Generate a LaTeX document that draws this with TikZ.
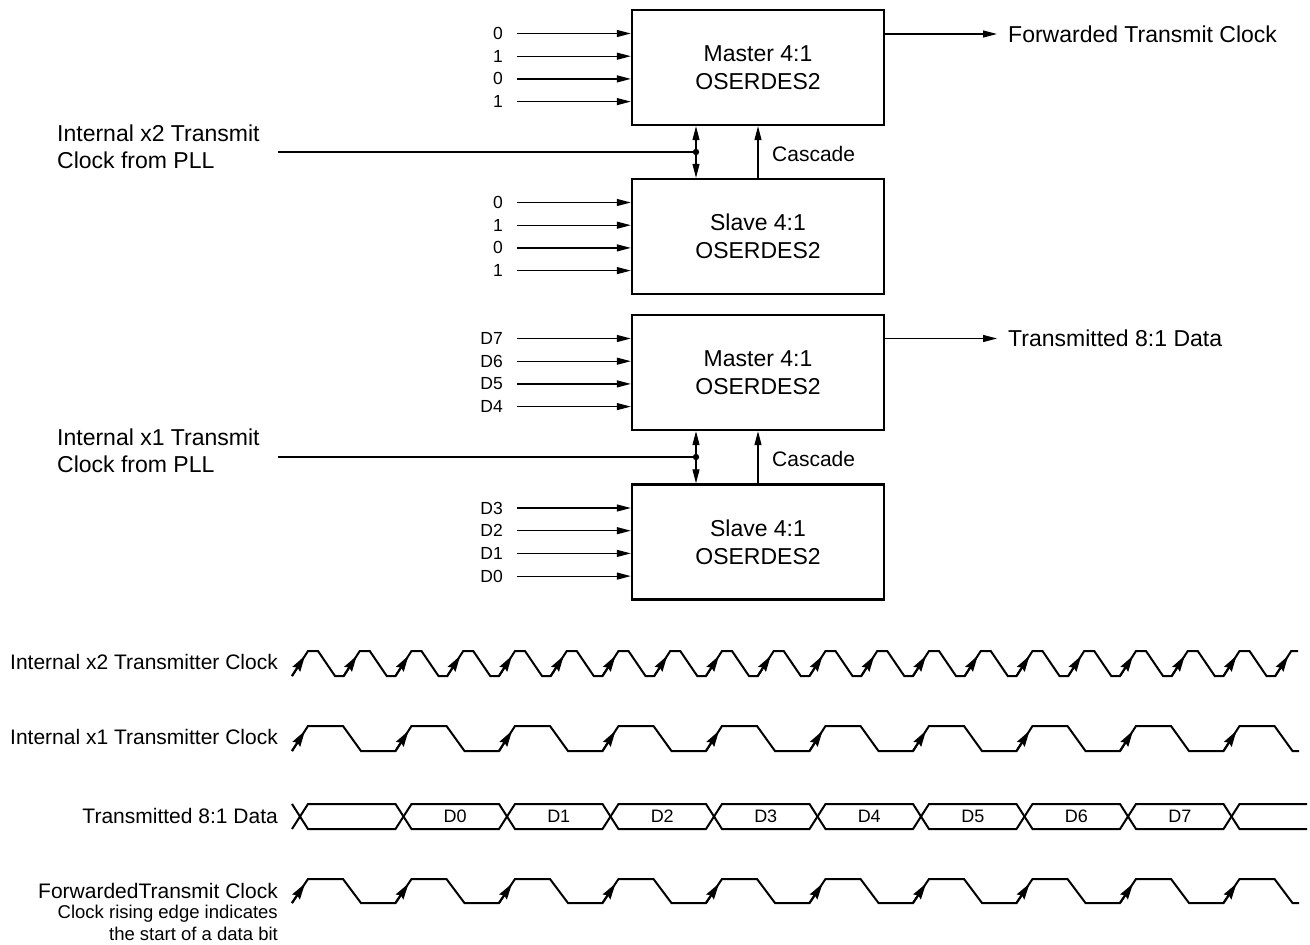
\documentclass[tikz,border=0pt]{standalone}
\usepackage{fontspec}
\setmainfont{Liberation Sans}
\usetikzlibrary{arrows.meta}

\tikzset{
  serbox/.style={draw, line width=2.4pt, minimum width=252pt, minimum height=115pt,
    align=center, font=\fontsize{23}{28}\selectfont},
  sig/.style={line width=1.2pt},
  sigarrow/.style={sig, -{Triangle[length=14pt,width=7pt]}},
  wave/.style={line width=2pt, line join=miter},
  edgetip/.style={line width=2pt, -{Stealth[length=16pt,width=9pt,inset=2pt]}},
  inlbl/.style={inner sep=0pt, anchor=east, font=\fontsize{17.5}{20}\selectfont},
  biglbl/.style={inner sep=0pt, align=left, font=\fontsize{23}{27}\selectfont},
  rowlbl/.style={inner sep=0pt, anchor=east, font=\fontsize{21}{24}\selectfont},
  casclbl/.style={inner sep=0pt, anchor=west, font=\fontsize{21}{24}\selectfont},
  bitlbl/.style={inner sep=0pt, font=\fontsize{18}{20}\selectfont},
}

\begin{document}
\begin{tikzpicture}[x=1pt, y=-1pt]
        \useasboundingbox (0,0) rectangle (1310,945);

        \node[serbox] (mclk) at (758,67.5) {Master 4:1\\OSERDES2};
        \node[serbox] (sclk) at (758,236.5) {Slave 4:1\\OSERDES2};
        \node[serbox] (mdat) at (758,372.5) {Master 4:1\\OSERDES2};
        \node[serbox] (sdat) at (758,542) {Slave 4:1\\OSERDES2};

        \foreach \lbl [count=\i] in {0,1,0,1} {
          \node[inlbl] (mclkin\i) at (503,{33.5+22.7*(\i-1)}) {\lbl};
          \draw[sigarrow] ([xshift=14pt]mclkin\i.east) -- (mclkin\i -| mclk.west);
          \node[inlbl] (sclkin\i) at (503,{202.5+22.7*(\i-1)}) {\lbl};
          \draw[sigarrow] ([xshift=14pt]sclkin\i.east) -- (sclkin\i -| sclk.west);
        }
        \foreach \lbl [count=\i] in {D7,D6,D5,D4} {
          \node[inlbl] (mdatin\i) at (503,{338.5+22.7*(\i-1)}) {\lbl};
          \draw[sigarrow] ([xshift=14pt]mdatin\i.east) -- (mdatin\i -| mdat.west);
        }
        \foreach \lbl [count=\i] in {D3,D2,D1,D0} {
          \node[inlbl] (sdatin\i) at (503,{508+22.7*(\i-1)}) {\lbl};
          \draw[sigarrow] ([xshift=14pt]sdatin\i.east) -- (sdatin\i -| sdat.west);
        }

        \node[biglbl, anchor=west] (pllx2) at (57,147) {Internal x2 Transmit\\Clock from PLL};
        \coordinate (jx2) at (696,152);
        \draw[sig] ([xshift=18pt]pllx2.east |- jx2) -- (jx2);
        \draw[sigarrow] (jx2) -- (jx2 |- mclk.south);
        \draw[sigarrow] (jx2) -- (jx2 |- sclk.north);
        \fill (jx2) circle (3.2pt);
        \draw[sigarrow] (sclk.north) -- (mclk.south);
        \node[casclbl] (cascx2) at (772,154) {Cascade};

        \node[biglbl, anchor=west] (pllx1) at (57,451) {Internal x1 Transmit\\Clock from PLL};
        \coordinate (jx1) at (696,457);
        \draw[sig] ([xshift=18pt]pllx1.east |- jx1) -- (jx1);
        \draw[sigarrow] (jx1) -- (jx1 |- mdat.south);
        \draw[sigarrow] (jx1) -- (jx1 |- sdat.north);
        \fill (jx1) circle (3.2pt);
        \draw[sigarrow] (sdat.north) -- (mdat.south);
        \node[casclbl] (cascx1) at (772,459) {Cascade};

        \node[biglbl, anchor=west] (fwdout) at (1008,34) {Forwarded Transmit Clock};
        \draw[sigarrow] (fwdout -| mclk.east) -- ([xshift=-11pt]fwdout.west);
        \node[biglbl, anchor=west] (datout) at (1008,338.5) {Transmitted 8:1 Data};
        \draw[sigarrow] (datout -| mdat.east) -- ([xshift=-11pt]datout.west);

        \node[rowlbl] (lx2) at (278,662) {Internal x2 Transmitter Clock};
        \node[rowlbl] (lx1) at (278,737) {Internal x1 Transmitter Clock};
        \node[rowlbl] (ldat) at (278,815.5) {Transmitted 8:1 Data};
        \node[rowlbl] (lfwd) at (278,890.5) {ForwardedTransmit Clock};
        \node[inner sep=0pt, anchor=north east, align=right, font=\fontsize{18.5}{22}\selectfont]
          (lnote) at (278,905) {Clock rising edge indicates\\the start of a data bit};

        \draw[wave] (292,676)
          \foreach \k in {0,...,18} {
            -- ({300+51.75*\k+8},651) -- ({300+51.75*\k+18},651)
            -- ({300+51.75*\k+35},676) -- ({300+51.75*\k+43.75},676) }
          -- (1291.25,651) -- (1298,651);
        \foreach \k in {0,...,19}
          \draw[edgetip] ({300+51.75*\k-8},676) -- ({300+51.75*\k+5},655.7);

        \foreach \yh/\yl in {726/751, 879/903} {
          \draw[wave] (292,\yl)
            \foreach \k in {0,...,8} {
              -- ({300+103.5*\k+8},\yh) -- ({300+103.5*\k+43},\yh)
              -- ({300+103.5*\k+61},\yl) -- ({300+103.5*\k+95.5},\yl) }
            -- (1239.5,\yh) -- (1274.5,\yh) -- (1292.5,\yl) -- (1299,\yl);
          \foreach \k in {0,...,9}
            \draw[edgetip] ({300+103.5*\k-8},\yl) -- ({300+103.5*\k+5},{\yl-0.81*(\yl-\yh)});
        }

        \draw[wave] (292,804) -- (300,816.5) -- (292,829);
        \foreach \k in {0,...,8}
          \draw[wave] ({300+103.5*\k},816.5) -- ({300+103.5*\k+8},804) -- ({300+103.5*\k+95.5},804)
            -- ({300+103.5*\k+103.5},816.5) -- ({300+103.5*\k+95.5},829) -- ({300+103.5*\k+8},829) -- cycle;
        \draw[wave] (1307,804) -- (1239.5,804) -- (1231.5,816.5) -- (1239.5,829) -- (1307,829);
        \foreach \k in {0,...,7}
          \node[bitlbl] (bit\k) at ({300+103.5*\k+155.25},816.5) {D\k};

\end{tikzpicture}
\end{document}
